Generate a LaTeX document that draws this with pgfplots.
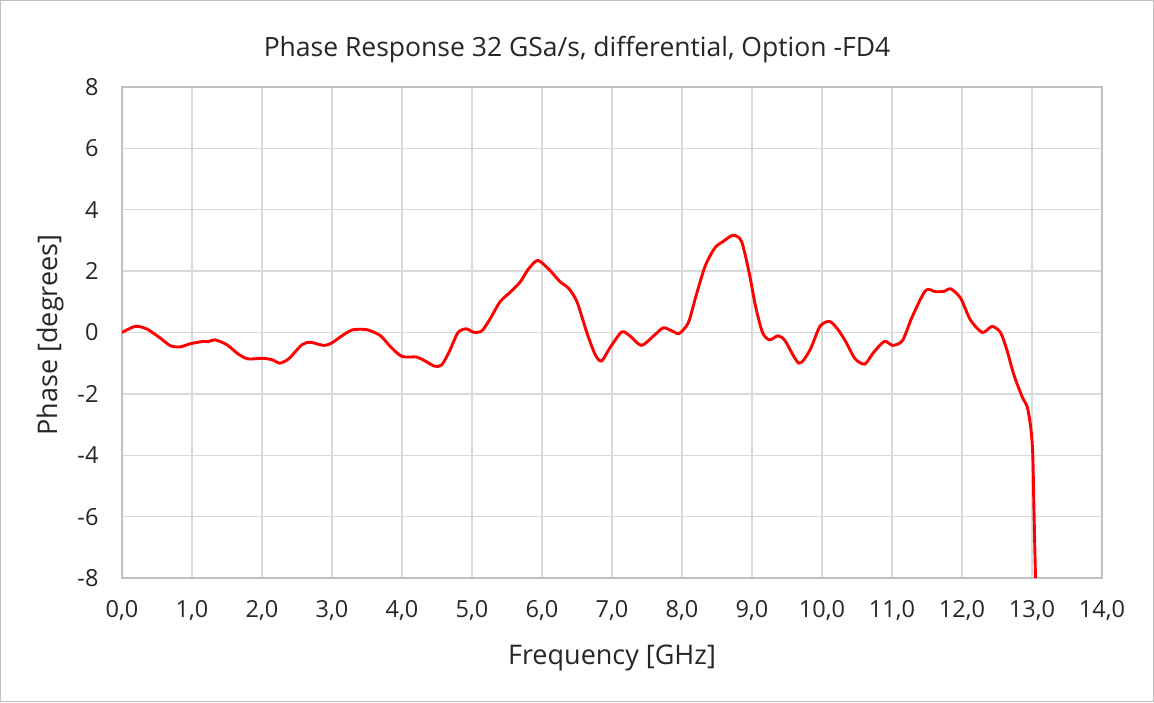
\documentclass[border=0pt]{standalone}
\usepackage{pgfplots}
\pgfplotsset{compat=1.18}
\usepackage{fontspec}
\setmainfont{Open Sans}
\definecolor{gridc}{HTML}{D9D9D9}
\definecolor{axc}{HTML}{BFBFBF}
\begin{document}
\begin{tikzpicture}[x=1pt,y=1pt]
\fill[white] (0,0) rectangle (1154,702);
\draw[axc,line width=1pt] (0.5,0.5) rectangle (1153.5,701.5);
\begin{axis}[
  at={(122pt,124pt)}, anchor=south west,
  scale only axis, width=980pt, height=491pt,
  xmin=0, xmax=14, ymin=-8, ymax=8,
  xtick={0,1,...,14}, ytick={-8,-6,...,8},
  grid=major, grid style={gridc, line width=1.3pt},
  axis line style={axc, line width=1.3pt},
  major tick length=0pt,
  tick label style={font=\fontsize{23.5}{26}\selectfont, color=black!85},
  /pgf/number format/assume math mode=true,
  xticklabel={\pgfmathprintnumber[fixed,fixed zerofill,precision=1,use comma]{\tick}},
  yticklabel={\pgfmathprintnumber[fixed,precision=0]{\tick}},
  xticklabel style={yshift=-19pt},
  yticklabel style={xshift=-20pt},
  clip=true,
]
\addplot[red, line width=2.9pt, smooth, tension=0.45] coordinates {
(0,0) (0.19,0.2) (0.35,0.12) (0.54,-0.17) (0.69,-0.43) (0.83,-0.47) (0.97,-0.37)
(1.16,-0.29) (1.23,-0.30) (1.33,-0.24) (1.50,-0.40) (1.66,-0.70) (1.80,-0.86)
(2.02,-0.84) (2.16,-0.90) (2.25,-1.00) (2.38,-0.86) (2.57,-0.40) (2.69,-0.32)
(2.88,-0.42) (2.99,-0.35) (3.16,-0.08) (3.30,0.09) (3.50,0.09) (3.69,-0.10)
(3.83,-0.45) (4.00,-0.78) (4.21,-0.80) (4.33,-0.93) (4.47,-1.10) (4.57,-1.05)
(4.68,-0.60) (4.80,0.00) (4.92,0.12) (5.02,0.01) (5.14,0.05) (5.26,0.45)
(5.40,1.00) (5.54,1.30) (5.69,1.65) (5.80,2.05) (5.94,2.35) (6.11,2.03)
(6.26,1.65) (6.38,1.44) (6.50,1.00) (6.64,0.00) (6.76,-0.72) (6.85,-0.93)
(6.97,-0.50) (7.14,0.02) (7.26,-0.12) (7.42,-0.42) (7.59,-0.12) (7.73,0.15)
(7.85,0.06) (7.96,-0.03) (8.09,0.32) (8.20,1.19) (8.33,2.16) (8.47,2.76)
(8.59,2.97) (8.73,3.17) (8.85,2.97) (8.96,1.94) (9.05,0.86) (9.15,0.00)
(9.25,-0.24) (9.37,-0.11) (9.47,-0.26) (9.67,-1.00) (9.83,-0.56) (9.97,0.20)
(10.11,0.36) (10.23,0.09) (10.35,-0.34) (10.47,-0.85) (10.61,-1.03) (10.73,-0.67)
(10.89,-0.29) (11.01,-0.42) (11.15,-0.26) (11.29,0.52) (11.48,1.37) (11.62,1.33)
(11.74,1.34) (11.84,1.42) (11.98,1.12) (12.12,0.41) (12.29,0.00) (12.43,0.20)
(12.55,0.00) (12.64,-0.56) (12.74,-1.37) (12.86,-2.10) (12.93,-2.41) (12.98,-3.06)
(13.01,-3.93) (13.03,-6.0) (13.05,-8.0)
};
\end{axis}
\node[font=\fontsize{26.5}{30}\selectfont, color=black!85] at (577,652) {Phase Response 32 GSa/s, differential, Option -FD4};
\node[font=\fontsize{27}{30}\selectfont, color=black!85] at (612,44) {Frequency [GHz]};
\node[font=\fontsize{27}{30}\selectfont, color=black!85, rotate=90] at (50,367) {Phase [degrees]};
\end{tikzpicture}
\end{document}
